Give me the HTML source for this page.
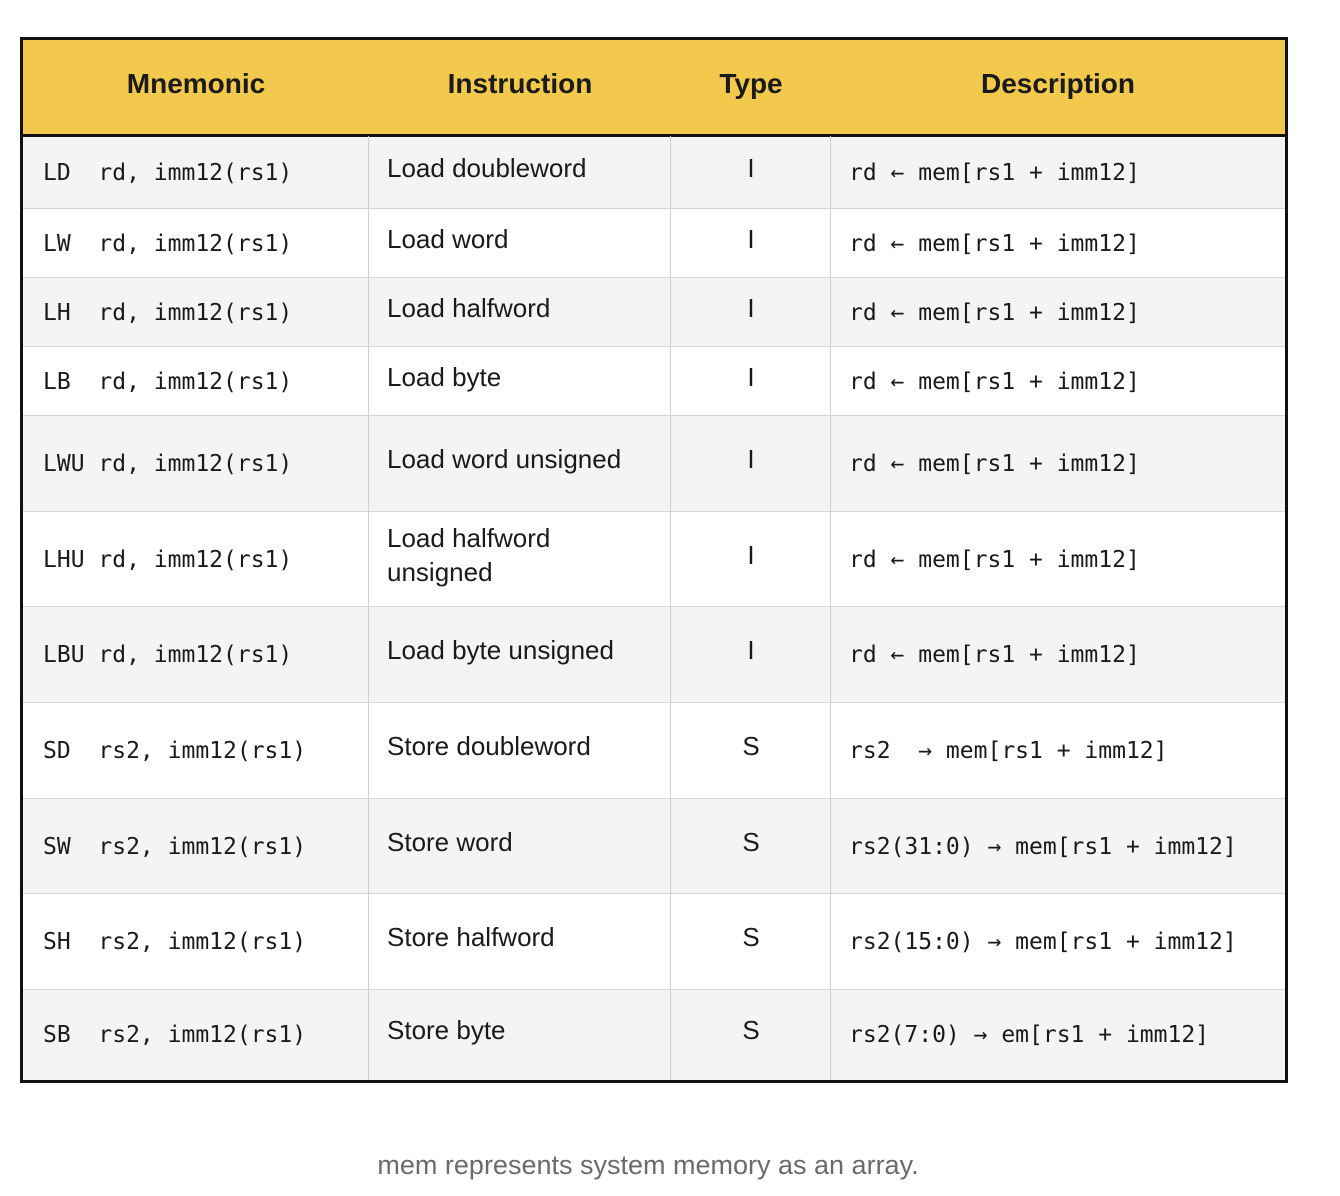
<!DOCTYPE html>
<html><head><meta charset="utf-8"><style>
body{margin:0;width:1340px;height:1196px;background:#fff;position:relative;overflow:hidden;font-family:"Liberation Sans",sans-serif}
.t{position:absolute;left:20px;top:37px;width:1262px;height:1040px;border:3px solid #111}
.c{position:absolute;display:flex;align-items:center;box-sizing:border-box;color:#1a1a1a}
.m{font-family:"DejaVu Sans Mono","Liberation Mono",monospace;font-size:23px;white-space:pre}
.s{font-size:26px;line-height:34px}
.h{font-weight:bold;font-size:28px;justify-content:center}
.hl{position:absolute;left:0;width:1262px;height:1px;background:#d6d6d6}
.vl{position:absolute;top:96px;width:1px;height:944px;background:#d0d0d0}
</style></head><body>
<div class="t">
<div style="position:absolute;left:0;top:0;width:1262px;height:94px;background:#f2c94c;border-bottom:3px solid #111"></div>
<div class="c h" style="left:0;top:-3px;width:346px;height:94px">Mnemonic</div>
<div class="c h" style="left:346px;top:-3px;width:302px;height:94px">Instruction</div>
<div class="c h" style="left:648px;top:-3px;width:160px;height:94px">Type</div>
<div class="c h" style="left:808px;top:-3px;width:454px;height:94px">Description</div>
<div id="rows"></div>
<div class="vl" style="left:345px"></div>
<div class="vl" style="left:647px"></div>
<div class="vl" style="left:807px"></div>
</div>
<div style="position:absolute;left:0;width:1296px;top:1150px;text-align:center;font-size:27px;color:#6b6b6b">mem represents system memory as an array.</div>
<script>
var b=[97,169,238,307,376,472,567,663,759,854,950,1040];
var d=[
["LD  rd, imm12(rs1)","Load doubleword","I","rd ← mem[rs1 + imm12]"],
["LW  rd, imm12(rs1)","Load word","I","rd ← mem[rs1 + imm12]"],
["LH  rd, imm12(rs1)","Load halfword","I","rd ← mem[rs1 + imm12]"],
["LB  rd, imm12(rs1)","Load byte","I","rd ← mem[rs1 + imm12]"],
["LWU rd, imm12(rs1)","Load word unsigned","I","rd ← mem[rs1 + imm12]"],
["LHU rd, imm12(rs1)","Load halfword<br>unsigned","I","rd ← mem[rs1 + imm12]"],
["LBU rd, imm12(rs1)","Load byte unsigned","I","rd ← mem[rs1 + imm12]"],
["SD  rs2, imm12(rs1)","Store doubleword","S","rs2  → mem[rs1 + imm12]"],
["SW  rs2, imm12(rs1)","Store word","S","rs2(31:0) → mem[rs1 + imm12]"],
["SH  rs2, imm12(rs1)","Store halfword","S","rs2(15:0) → mem[rs1 + imm12]"],
["SB  rs2, imm12(rs1)","Store byte","S","rs2(7:0) → em[rs1 + imm12]"]];
var h="";
for(var i=0;i<11;i++){var y=b[i],H=b[i+1]-b[i];
h+='<div style="position:absolute;left:0;top:'+y+'px;width:1262px;height:'+H+'px;background:'+(i%2?'#fff':'#f4f4f4')+'"></div>';
if(i>0)h+='<div class="hl" style="top:'+(y-1)+'px"></div>';
h+='<div class="c m" style="left:20px;top:'+y+'px;height:'+H+'px">'+d[i][0]+'</div>';
h+='<div class="c s" style="left:364px;top:'+y+'px;height:'+H+'px;padding-bottom:10px">'+d[i][1]+'</div>';
h+='<div class="c s" style="left:648px;width:160px;justify-content:center;top:'+y+'px;height:'+H+'px;padding-bottom:10px">'+d[i][2]+'</div>';
h+='<div class="c m" style="left:826px;top:'+y+'px;height:'+H+'px">'+d[i][3]+'</div>';}
document.getElementById("rows").innerHTML=h;
</script>
</body></html>
